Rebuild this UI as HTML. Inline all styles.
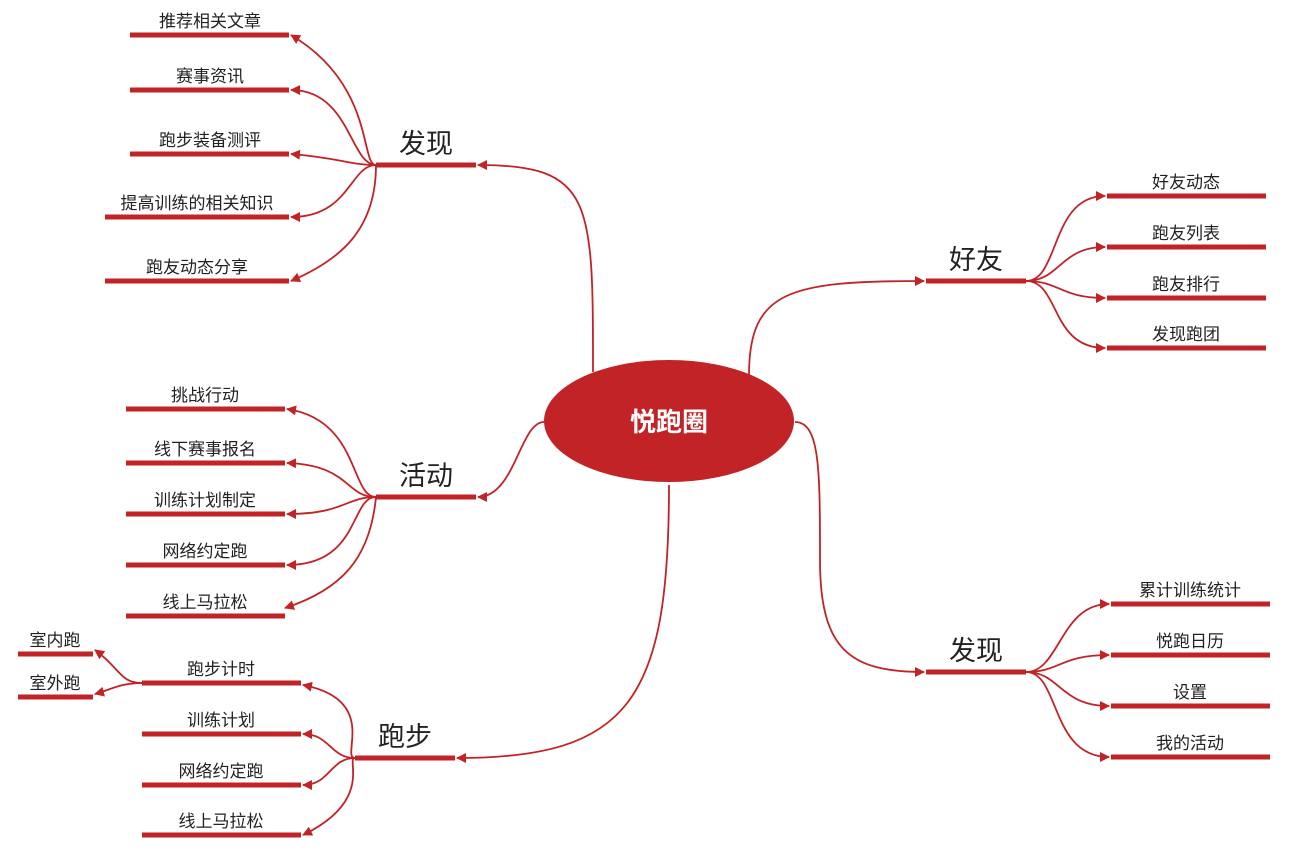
<!DOCTYPE html>
<html><head><meta charset="utf-8"><style>
html,body{margin:0;padding:0;background:#fff;}
svg{display:block}
text{font-family:"Liberation Sans","Noto Sans CJK SC",sans-serif;fill:#222}
.l{font-size:17px}
.b{font-size:27px}
</style></head><body>
<svg width="1292" height="851" viewBox="0 0 1292 851" xmlns="http://www.w3.org/2000/svg">
<defs>
<marker id="a" viewBox="0 0 10 10" refX="9" refY="5" markerWidth="10" markerHeight="10" markerUnits="userSpaceOnUse" orient="auto"><path d="M0,0L10,5L0,10z" fill="#c22326"/></marker>
</defs>
<g fill="none" stroke="#c22326" stroke-width="1.8">
<!-- main connectors -->
<path d="M593,372 C593,200 593,165 478,165" marker-end="url(#a)"/>
<path d="M749,375 C749,290 790,281 924,281" marker-end="url(#a)"/>
<path d="M544,422 C520,422 515,497 478,497" marker-end="url(#a)"/>
<path d="M795,422 C820,422 820,470 820,560 C820,650 850,672 924,672" marker-end="url(#a)"/>
<path d="M669,485 C669,700 630,758 457,758" marker-end="url(#a)"/>
<!-- 发现 top children -->
<path d="M376,165 C360,165 375,85 291,35" marker-end="url(#a)"/>
<path d="M376,165 C350,165 350,90 291,90" marker-end="url(#a)"/>
<path d="M376,165 C350,165 340,158 291,154" marker-end="url(#a)"/>
<path d="M376,165 C350,165 350,217 291,217" marker-end="url(#a)"/>
<path d="M376,165 C376,230 340,260 291,281" marker-end="url(#a)"/>
<!-- 好友 -->
<path d="M1026,281 C1060,281 1050,196 1105,196" marker-end="url(#a)"/>
<path d="M1026,281 C1060,281 1060,247 1105,247" marker-end="url(#a)"/>
<path d="M1026,281 C1060,281 1060,298 1105,298" marker-end="url(#a)"/>
<path d="M1026,281 C1060,281 1050,348 1105,348" marker-end="url(#a)"/>
<!-- 活动 -->
<path d="M376,497 C350,497 360,420 287,409" marker-end="url(#a)"/>
<path d="M376,497 C345,497 350,465 287,463" marker-end="url(#a)"/>
<path d="M376,497 C345,497 345,514 287,514" marker-end="url(#a)"/>
<path d="M376,497 C350,497 360,565 287,565" marker-end="url(#a)"/>
<path d="M376,497 C370,560 340,590 285,608" marker-end="url(#a)"/>
<!-- 发现 bottom right -->
<path d="M1026,672 C1060,672 1060,604 1109,604" marker-end="url(#a)"/>
<path d="M1026,672 C1060,672 1060,655 1109,655" marker-end="url(#a)"/>
<path d="M1026,672 C1060,672 1060,706 1109,706" marker-end="url(#a)"/>
<path d="M1026,672 C1060,672 1050,757 1109,757" marker-end="url(#a)"/>
<!-- 跑步 -->
<path d="M355,758 C340,758 380,700 303,685" marker-end="url(#a)"/>
<path d="M355,758 C330,758 330,734 303,734" marker-end="url(#a)"/>
<path d="M355,758 C330,758 330,785 303,785" marker-end="url(#a)"/>
<path d="M355,758 C345,758 375,800 303,835" marker-end="url(#a)"/>
<!-- 跑步计时 -->
<path d="M142,683 C120,683 120,668 95,650" marker-end="url(#a)"/>
<path d="M142,683 C120,683 110,690 95,694" marker-end="url(#a)"/>
</g>
<g stroke="#c22326" stroke-width="5">
<line x1="376" y1="165" x2="476" y2="165"/>
<line x1="926" y1="281" x2="1026" y2="281"/>
<line x1="376" y1="497" x2="476" y2="497"/>
<line x1="926" y1="672" x2="1026" y2="672"/>
<line x1="355" y1="758" x2="455" y2="758"/>
<line x1="130" y1="35" x2="289" y2="35"/>
<line x1="130" y1="90" x2="289" y2="90"/>
<line x1="130" y1="154" x2="289" y2="154"/>
<line x1="105" y1="217" x2="289" y2="217"/>
<line x1="105" y1="281" x2="289" y2="281"/>
<line x1="1107" y1="196" x2="1266" y2="196"/>
<line x1="1107" y1="247" x2="1266" y2="247"/>
<line x1="1107" y1="298" x2="1266" y2="298"/>
<line x1="1107" y1="348" x2="1266" y2="348"/>
<line x1="126" y1="409" x2="285" y2="409"/>
<line x1="126" y1="463" x2="285" y2="463"/>
<line x1="126" y1="514" x2="285" y2="514"/>
<line x1="126" y1="565" x2="285" y2="565"/>
<line x1="126" y1="616" x2="285" y2="616"/>
<line x1="1111" y1="604" x2="1270" y2="604"/>
<line x1="1111" y1="655" x2="1270" y2="655"/>
<line x1="1111" y1="706" x2="1270" y2="706"/>
<line x1="1111" y1="757" x2="1270" y2="757"/>
<line x1="142" y1="683" x2="301" y2="683"/>
<line x1="142" y1="734" x2="301" y2="734"/>
<line x1="142" y1="785" x2="301" y2="785"/>
<line x1="142" y1="835" x2="301" y2="835"/>
<line x1="18" y1="654" x2="93" y2="654"/>
<line x1="18" y1="697" x2="93" y2="697"/>
</g>
<ellipse cx="669" cy="421" rx="125" ry="61" fill="#c22326"/>
<text x="669" y="431" text-anchor="middle" style="font-size:26px;font-weight:bold;fill:#fff">悦跑圈</text>
<g text-anchor="middle">
<text class="b" x="426" y="153">发现</text>
<text class="b" x="976" y="269">好友</text>
<text class="b" x="426" y="485">活动</text>
<text class="b" x="976" y="660">发现</text>
<text class="b" x="405" y="746">跑步</text>
<text class="l" x="210" y="27">推荐相关文章</text>
<text class="l" x="210" y="82">赛事资讯</text>
<text class="l" x="210" y="146">跑步装备测评</text>
<text class="l" x="197" y="209">提高训练的相关知识</text>
<text class="l" x="197" y="273">跑友动态分享</text>
<text class="l" x="1186" y="188">好友动态</text>
<text class="l" x="1186" y="239">跑友列表</text>
<text class="l" x="1186" y="290">跑友排行</text>
<text class="l" x="1186" y="340">发现跑团</text>
<text class="l" x="205" y="401">挑战行动</text>
<text class="l" x="205" y="455">线下赛事报名</text>
<text class="l" x="205" y="506">训练计划制定</text>
<text class="l" x="205" y="557">网络约定跑</text>
<text class="l" x="205" y="608">线上马拉松</text>
<text class="l" x="1190" y="596">累计训练统计</text>
<text class="l" x="1190" y="647">悦跑日历</text>
<text class="l" x="1190" y="698">设置</text>
<text class="l" x="1190" y="749">我的活动</text>
<text class="l" x="221" y="675">跑步计时</text>
<text class="l" x="221" y="726">训练计划</text>
<text class="l" x="221" y="777">网络约定跑</text>
<text class="l" x="221" y="827">线上马拉松</text>
<text class="l" x="55" y="646">室内跑</text>
<text class="l" x="55" y="689">室外跑</text>
</g>
</svg>
</body></html>
